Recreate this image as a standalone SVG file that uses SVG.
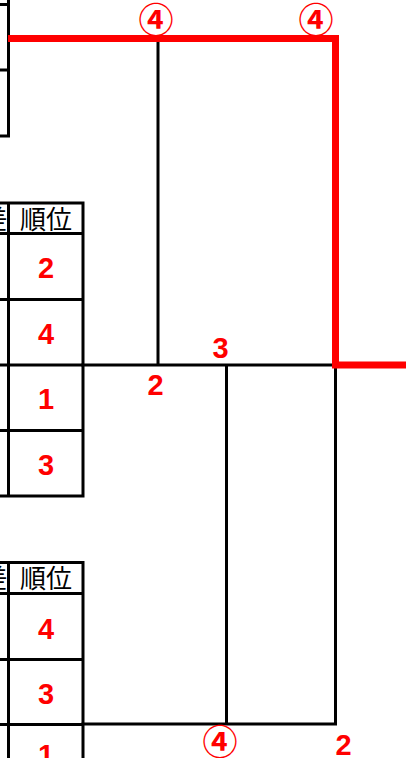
<svg xmlns="http://www.w3.org/2000/svg" width="406" height="758" viewBox="0 0 406 758">
<style>
.ln{stroke:#000;stroke-width:3;fill:none;stroke-linecap:square}
.red{stroke:#ff0000;stroke-width:7;fill:none;stroke-linejoin:miter}
.num{font-family:"Liberation Sans",Arial,sans-serif;font-weight:bold;font-size:29px;fill:#ff0000;text-anchor:middle}
.cir{font-family:"Noto Sans CJK JP","Noto Sans",sans-serif;font-weight:bold;font-size:35px;fill:#ff0000;text-anchor:middle}
.hd{font-family:"Noto Sans CJK JP",sans-serif;font-size:26px;fill:#000;text-anchor:middle}
</style>
<rect width="406" height="758" fill="#fff"/>
<g id="table-top">
  <path class="ln" d="M0,4.5H8.5M0,70H8.5M0,136H8.5M8.5,0V136"/>
</g>
<g id="table-upper">
  <path class="ln" d="M0,203H83M0,233.5H83M0,299.5H83M0,365H83M0,430.5H83M0,496H83M8.5,203V496M83,203V496"/>
  <text class="hd" x="7.5" y="228.5" style="text-anchor:end">差</text>
  <text class="hd" x="46" y="228.5">順位</text>
  <text class="num" x="46" y="277.5">2</text>
  <text class="num" x="46" y="343.5">4</text>
  <text class="num" x="46" y="408.5">1</text>
  <text class="num" x="46" y="474.5">3</text>
</g>
<g id="table-lower">
  <path class="ln" d="M0,562.5H83M0,593.5H83M0,659.5H83M0,724.5H83M8.5,562.5V758M83,562.5V758"/>
  <text class="hd" x="7.5" y="588" style="text-anchor:end">差</text>
  <text class="hd" x="46" y="588">順位</text>
  <text class="num" x="46" y="638.5">4</text>
  <text class="num" x="46" y="703.5">3</text>
  <text class="num" x="46" y="765">1</text>
</g>
<g id="connectors">
  <path class="ln" d="M158,38.5V365M83,365H335.5M226.5,365V724M335.5,365V724M83,724H335.5"/>
  <polyline class="red" points="8,38.5 335.5,38.5 335.5,365 406,365"/>
</g>
<g id="labels">
  <text class="cir" x="156" y="32.5">④</text>
  <text class="cir" x="316" y="32.5">④</text>
  <text class="num" x="220.5" y="358">3</text>
  <text class="num" x="155.5" y="395">2</text>
  <text class="cir" x="220" y="755">④</text>
  <text class="num" x="343.5" y="755">2</text>
</g>
</svg>
